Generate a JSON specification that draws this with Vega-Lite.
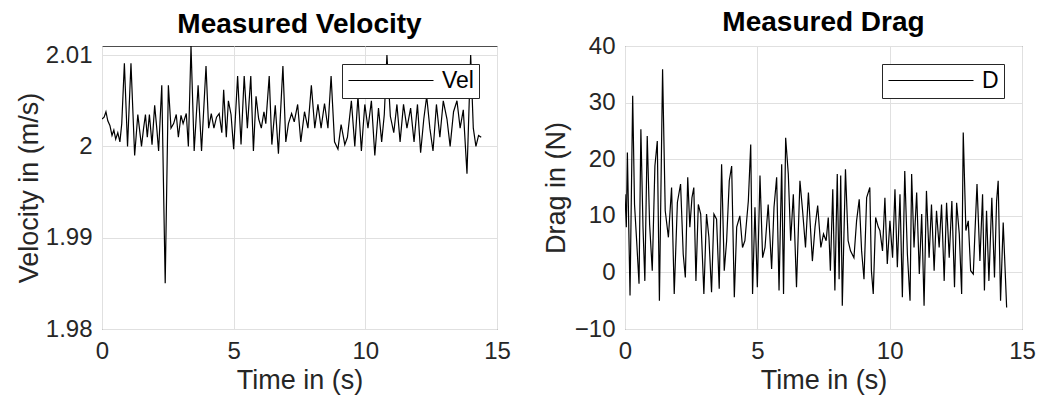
{
  "$schema": "https://vega.github.io/schema/vega-lite/v6.json",
  "background": "white",
  "padding": {"left": 14, "top": 8, "right": 0, "bottom": 5},
  "bounds": "flush",
  "spacing": 128,
  "config": {
    "font": "Liberation Sans",
    "view": {"stroke": "#4d4d4d", "strokeWidth": 1},
    "axis": {
      "labelFont": "Liberation Sans", "labelFontSize": 24, "labelColor": "#262626", "labelFlush": false,
      "titleFont": "Liberation Sans", "titleFontSize": 27, "titleFontWeight": "normal", "titleColor": "#262626",
      "domain": false, "ticks": false, "gridColor": "#e0e0e0", "gridWidth": 1, "labelPadding": 10
    },
    "title": {"font": "Liberation Sans", "fontSize": 28, "fontWeight": "bold", "color": "#000000", "anchor": "middle"},
    "legend": {
      "orient": "top-right", "offset": 18, "strokeColor": "#262626", "fillColor": "white", "padding": 5,
      "symbolType": "M-1,0H7.5", "symbolSize": 400, "symbolStrokeWidth": 1.2, "symbolFillColor": "transparent",
      "labelFontSize": 23, "labelFont": "Liberation Sans",
      "labelColor": "#000000", "labelOffset": 72, "title": null
    }
  },
  "resolve": {"scale": {"color": "independent"}, "legend": {"color": "independent"}},
  "datasets": {
    "vel": [
      {"t":0.00,"v":2.0030},{"t":0.08,"v":2.0032},{"t":0.15,"v":2.0038},{"t":0.22,"v":2.0028},{"t":0.30,"v":2.0023},
      {"t":0.38,"v":2.0012},{"t":0.45,"v":2.0018},{"t":0.52,"v":2.0008},{"t":0.60,"v":2.0015},{"t":0.68,"v":2.0005},
      {"t":0.75,"v":2.0025},{"t":0.85,"v":2.0091},{"t":0.97,"v":2.0000},{"t":1.10,"v":2.0091},{"t":1.24,"v":1.9990},
      {"t":1.36,"v":2.0035},{"t":1.50,"v":2.0000},{"t":1.58,"v":2.0020},{"t":1.65,"v":2.0035},{"t":1.72,"v":2.0010},
      {"t":1.80,"v":2.0035},{"t":1.90,"v":2.0002},{"t":2.00,"v":2.0045},{"t":2.08,"v":2.0020},{"t":2.15,"v":1.9995},
      {"t":2.27,"v":2.0067},{"t":2.40,"v":1.9850},{"t":2.52,"v":2.0067},{"t":2.62,"v":2.0020},{"t":2.72,"v":2.0025},
      {"t":2.82,"v":2.0035},{"t":2.90,"v":2.0010},{"t":3.00,"v":2.0034},{"t":3.08,"v":2.0025},{"t":3.20,"v":2.0036},
      {"t":3.28,"v":2.0000},{"t":3.38,"v":2.0110},{"t":3.50,"v":1.9995},{"t":3.65,"v":2.0067},{"t":3.78,"v":1.9995},
      {"t":3.95,"v":2.0088},{"t":4.05,"v":2.0020},{"t":4.15,"v":2.0036},{"t":4.25,"v":2.0020},{"t":4.35,"v":2.0032},
      {"t":4.45,"v":2.0036},{"t":4.55,"v":2.0015},{"t":4.62,"v":2.0062},{"t":4.72,"v":2.0010},{"t":4.80,"v":2.0050},
      {"t":4.90,"v":2.0035},{"t":5.00,"v":1.9997},{"t":5.15,"v":2.0077},{"t":5.28,"v":2.0002},{"t":5.40,"v":2.0077},
      {"t":5.52,"v":2.0020},{"t":5.65,"v":2.0077},{"t":5.75,"v":1.9995},{"t":5.85,"v":2.0055},{"t":5.95,"v":2.0030},
      {"t":6.05,"v":2.0020},{"t":6.15,"v":2.0038},{"t":6.22,"v":2.0025},{"t":6.35,"v":2.0077},{"t":6.45,"v":2.0002},
      {"t":6.58,"v":2.0045},{"t":6.70,"v":1.9992},{"t":6.87,"v":2.0088},{"t":6.98,"v":2.0005},{"t":7.08,"v":2.0025},
      {"t":7.20,"v":2.0036},{"t":7.30,"v":2.0027},{"t":7.43,"v":2.0046},{"t":7.55,"v":2.0005},{"t":7.69,"v":2.0038},
      {"t":7.82,"v":2.0020},{"t":7.95,"v":2.0067},{"t":8.08,"v":2.0020},{"t":8.20,"v":2.0046},{"t":8.32,"v":2.0020},
      {"t":8.45,"v":2.0047},{"t":8.58,"v":2.0020},{"t":8.70,"v":2.0077},{"t":8.83,"v":2.0005},{"t":8.96,"v":1.9997},
      {"t":9.08,"v":2.0024},{"t":9.22,"v":2.0002},{"t":9.32,"v":2.0010},{"t":9.47,"v":2.0050},{"t":9.60,"v":2.0000},
      {"t":9.72,"v":2.0055},{"t":9.85,"v":1.9995},{"t":9.98,"v":2.0046},{"t":10.10,"v":2.0020},{"t":10.23,"v":2.0050},
      {"t":10.36,"v":1.9990},{"t":10.50,"v":2.0042},{"t":10.62,"v":2.0005},{"t":10.72,"v":2.0035},{"t":10.82,"v":2.0100},
      {"t":10.95,"v":2.0033},{"t":11.08,"v":2.0015},{"t":11.20,"v":2.0046},{"t":11.32,"v":2.0005},{"t":11.45,"v":2.0046},
      {"t":11.58,"v":2.0020},{"t":11.72,"v":2.0042},{"t":11.85,"v":2.0005},{"t":11.98,"v":2.0046},{"t":12.10,"v":1.9993},
      {"t":12.22,"v":2.0030},{"t":12.33,"v":2.0055},{"t":12.45,"v":2.0020},{"t":12.57,"v":1.9995},{"t":12.70,"v":2.0046},
      {"t":12.83,"v":2.0010},{"t":12.96,"v":2.0050},{"t":13.10,"v":2.0030},{"t":13.22,"v":2.0000},{"t":13.35,"v":2.0038},
      {"t":13.48,"v":2.0050},{"t":13.60,"v":2.0020},{"t":13.72,"v":2.0040},{"t":13.86,"v":1.9970},{"t":14.00,"v":2.0100},
      {"t":14.10,"v":2.0020},{"t":14.20,"v":2.0000},{"t":14.30,"v":2.0012},{"t":14.40,"v":2.0010}
    ],
    "drag": [
      {"t":0.00,"d":13.8},{"t":0.05,"d":8.0},{"t":0.09,"d":21.2},{"t":0.19,"d":-4.1},{"t":0.29,"d":31.2},
      {"t":0.36,"d":12.0},{"t":0.44,"d":5.6},{"t":0.53,"d":-2.0},{"t":0.60,"d":25.3},{"t":0.68,"d":8.0},
      {"t":0.75,"d":-1.5},{"t":0.84,"d":24.1},{"t":0.93,"d":8.5},{"t":1.03,"d":0.3},{"t":1.13,"d":18.8},
      {"t":1.22,"d":23.2},{"t":1.30,"d":-5.0},{"t":1.42,"d":35.9},{"t":1.52,"d":10.9},{"t":1.64,"d":6.2},
      {"t":1.76,"d":15.0},{"t":1.86,"d":-3.8},{"t":1.98,"d":12.4},{"t":2.10,"d":15.6},{"t":2.20,"d":3.2},
      {"t":2.28,"d":-0.9},{"t":2.37,"d":16.8},{"t":2.45,"d":8.0},{"t":2.53,"d":13.2},{"t":2.60,"d":15.0},
      {"t":2.68,"d":-1.5},{"t":2.77,"d":12.0},{"t":2.86,"d":10.3},{"t":2.98,"d":-3.8},{"t":3.08,"d":10.3},
      {"t":3.17,"d":6.2},{"t":3.27,"d":-3.5},{"t":3.36,"d":10.3},{"t":3.46,"d":9.4},{"t":3.56,"d":-2.9},
      {"t":3.65,"d":19.1},{"t":3.75,"d":0.3},{"t":3.84,"d":5.6},{"t":3.94,"d":16.2},{"t":4.03,"d":18.8},
      {"t":4.13,"d":-4.4},{"t":4.22,"d":8.0},{"t":4.34,"d":10.0},{"t":4.44,"d":4.4},{"t":4.53,"d":5.6},
      {"t":4.66,"d":12.6},{"t":4.75,"d":22.6},{"t":4.82,"d":-3.8},{"t":4.91,"d":11.5},{"t":5.00,"d":-2.6},
      {"t":5.10,"d":17.1},{"t":5.20,"d":2.6},{"t":5.29,"d":4.4},{"t":5.41,"d":12.0},{"t":5.54,"d":0.6},
      {"t":5.63,"d":11.5},{"t":5.73,"d":16.8},{"t":5.82,"d":-3.2},{"t":5.92,"d":19.1},{"t":5.99,"d":-3.8},
      {"t":6.07,"d":23.8},{"t":6.17,"d":17.4},{"t":6.26,"d":5.6},{"t":6.36,"d":13.8},{"t":6.48,"d":-2.6},
      {"t":6.61,"d":16.2},{"t":6.71,"d":10.9},{"t":6.82,"d":4.4},{"t":6.93,"d":14.1},{"t":7.08,"d":2.0},
      {"t":7.18,"d":8.0},{"t":7.28,"d":11.8},{"t":7.40,"d":4.4},{"t":7.50,"d":6.8},{"t":7.60,"d":5.6},
      {"t":7.68,"d":9.7},{"t":7.76,"d":0.3},{"t":7.85,"d":14.7},{"t":7.93,"d":-3.2},{"t":8.02,"d":17.4},
      {"t":8.09,"d":-1.2},{"t":8.15,"d":17.1},{"t":8.21,"d":-5.9},{"t":8.33,"d":18.2},{"t":8.43,"d":5.6},
      {"t":8.52,"d":3.8},{"t":8.65,"d":2.6},{"t":8.75,"d":9.1},{"t":8.85,"d":12.9},{"t":8.94,"d":3.8},
      {"t":9.03,"d":-1.2},{"t":9.13,"d":13.2},{"t":9.25,"d":15.0},{"t":9.31,"d":0.3},{"t":9.38,"d":-3.8},
      {"t":9.47,"d":9.7},{"t":9.57,"d":8.0},{"t":9.63,"d":7.4},{"t":9.73,"d":3.8},{"t":9.82,"d":13.2},
      {"t":9.91,"d":1.5},{"t":10.01,"d":9.1},{"t":10.11,"d":2.6},{"t":10.20,"d":14.7},{"t":10.29,"d":0.9},
      {"t":10.39,"d":13.8},{"t":10.48,"d":-4.4},{"t":10.57,"d":17.9},{"t":10.67,"d":3.2},{"t":10.77,"d":-5.0},
      {"t":10.83,"d":17.4},{"t":10.92,"d":4.4},{"t":11.02,"d":14.1},{"t":11.12,"d":-0.3},{"t":11.21,"d":10.3},
      {"t":11.30,"d":-5.9},{"t":11.39,"d":14.4},{"t":11.49,"d":2.6},{"t":11.58,"d":12.0},{"t":11.68,"d":0.3},
      {"t":11.77,"d":10.9},{"t":11.87,"d":4.4},{"t":11.96,"d":12.0},{"t":12.06,"d":-1.5},{"t":12.15,"d":12.3},
      {"t":12.25,"d":2.6},{"t":12.35,"d":12.6},{"t":12.45,"d":-2.6},{"t":12.53,"d":12.3},{"t":12.63,"d":6.8},
      {"t":12.72,"d":-3.8},{"t":12.78,"d":24.7},{"t":12.88,"d":7.4},{"t":12.97,"d":9.1},{"t":13.06,"d":0.3},
      {"t":13.16,"d":-0.3},{"t":13.22,"d":6.8},{"t":13.30,"d":15.6},{"t":13.41,"d":2.0},{"t":13.51,"d":13.8},
      {"t":13.58,"d":-3.2},{"t":13.66,"d":10.9},{"t":13.75,"d":-1.5},{"t":13.86,"d":13.2},{"t":13.96,"d":-0.9},
      {"t":14.04,"d":12.6},{"t":14.10,"d":16.2},{"t":14.19,"d":-5.0},{"t":14.29,"d":8.8},{"t":14.42,"d":-6.2}
    ]
  },
  "hconcat": [
    {
      "width": 395, "height": 283,
      "title": {"text": "Measured Velocity", "offset": 4},
      "data": {"name": "vel"},
      "mark": {"type": "line", "strokeWidth": 1.2, "clip": true},
      "encoding": {
        "x": {"field": "t", "type": "quantitative", "title": "Time in (s)",
              "scale": {"domain": [0, 15], "nice": false}, "axis": {"values": [0, 5, 10, 15]}},
        "y": {"field": "v", "type": "quantitative", "title": "Velocity in (m/s)",
              "scale": {"domain": [1.98, 2.011], "nice": false, "zero": false},
              "axis": {"values": [1.98, 1.99, 2, 2.01], "format": ".2~f", "titlePadding": 2}},
        "color": {"datum": "Vel", "scale": {"range": ["#000000"]}}
      }
    },
    {
      "width": 397, "height": 283,
      "title": {"text": "Measured Drag", "offset": -3},
      "data": {"name": "drag"},
      "mark": {"type": "line", "strokeWidth": 1.2, "clip": true},
      "encoding": {
        "x": {"field": "t", "type": "quantitative", "title": "Time in (s)",
              "scale": {"domain": [0, 15], "nice": false}, "axis": {"values": [0, 5, 10, 15]}},
        "y": {"field": "d", "type": "quantitative", "title": "Drag in (N)",
              "scale": {"domain": [-10, 40], "nice": false},
              "axis": {"values": [-10, 0, 10, 20, 30, 40], "titlePadding": 4}},
        "color": {"datum": "D", "scale": {"range": ["#000000"]}}
      }
    }
  ]
}
